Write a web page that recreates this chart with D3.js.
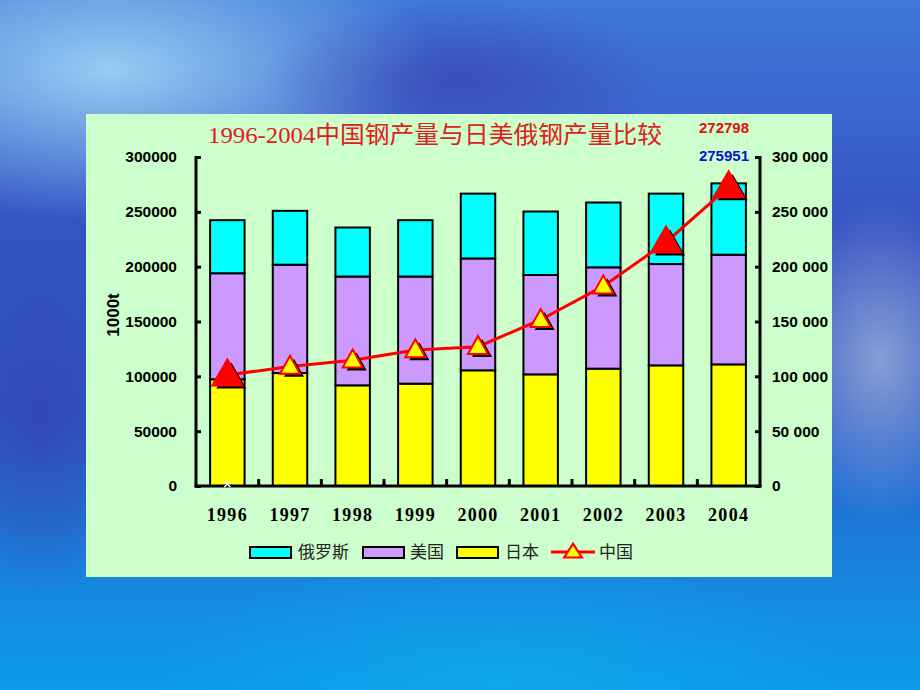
<!DOCTYPE html>
<html><head><meta charset="utf-8">
<script src="https://cdn.jsdelivr.net/npm/d3@7"></script>
<style>body{margin:0;overflow:hidden;background:#2a5fd0}</style></head>
<body><svg id="c" width="920" height="690"></svg>
<script>
// Data (unit: 1000t)
const years  = ["1996","1997","1998","1999","2000","2001","2002","2003","2004"];
const japan  = [97300, 103000, 91800, 93300, 105500, 101800, 107000, 110000, 110900];
const usa    = [96700, 98800, 99200, 97700, 102000, 90600, 92400, 92400, 100000];
const russia = [48400, 49100, 44700, 51400, 59100, 57900, 59100, 64200, 65051];
const china  = [101237, 108900, 114600, 124000, 127000, 151600, 182200, 222300, 272798];
const leftTicks  = [0, 50000, 100000, 150000, 200000, 250000, 300000];
const rightTickLabels = ["0","50 000","100 000","150 000","200 000","250 000","300 000"];
const seriesNames = ["俄罗斯","美国","日本","中国"];
const titleText = "1996-2004中国钢产量与日美俄钢产量比较";
const chinaLast = "272798";
const totalLast = "275951";
const bigMarkers = ["1996","2003","2004"];

const svg = d3.select("#c");
const defs = svg.append("defs");

// background
const lg = defs.append("linearGradient").attr("id","bg").attr("x1",0).attr("y1",0).attr("x2",0).attr("y2",1);
[[0,"#3f78d8"],[0.35,"#3552c2"],[0.6,"#2a5ccc"],[0.85,"#1688de"],[1,"#0c9ae8"]].forEach(s=>lg.append("stop").attr("offset",s[0]).attr("stop-color",s[1]));
function radial(id, color, op){
  const r = defs.append("radialGradient").attr("id",id);
  r.append("stop").attr("offset",0).attr("stop-color",color).attr("stop-opacity",op);
  r.append("stop").attr("offset",1).attr("stop-color",color).attr("stop-opacity",0);
}
radial("g1","#9ad2f4",0.95);
radial("g2","#b0bcd8",0.7);
radial("g3","#3a3aa8",0.6);
radial("g4","#10b0f0",0.6);
svg.append("rect").attr("width",920).attr("height",690).attr("fill","url(#bg)");
svg.append("ellipse").attr("cx",110).attr("cy",70).attr("rx",330).attr("ry",150).attr("fill","url(#g1)");
svg.append("ellipse").attr("cx",460).attr("cy",80).attr("rx",200).attr("ry",80).attr("fill","url(#g3)");
svg.append("ellipse").attr("cx",40).attr("cy",420).attr("rx",120).attr("ry",180).attr("fill","url(#g3)");
svg.append("ellipse").attr("cx",880).attr("cy",360).attr("rx",110).attr("ry",160).attr("fill","url(#g2)");
svg.append("ellipse").attr("cx",500).attr("cy",680).attr("rx",350).attr("ry",120).attr("fill","url(#g4)");

// panel
svg.append("rect").attr("x",86).attr("y",114).attr("width",746).attr("height",463).attr("fill","#CCFFCC");

const x = d3.scaleBand().domain(years).range([196,760]).paddingInner(0.45).paddingOuter(0.225);
const y = d3.scaleLinear().domain([0,300000]).range([486,157]);

// stacked bars
const rows = years.map((yr,i)=>({year:yr, japan:japan[i], usa:usa[i], russia:russia[i]}));
const stack = d3.stack().keys(["japan","usa","russia"])(rows);
const colors = {japan:"#FFFF00", usa:"#CC99FF", russia:"#00FFFF"};
stack.forEach(layer=>{
  svg.append("g").selectAll("rect").data(layer).join("rect")
    .attr("x",d=>x(d.data.year)).attr("width",x.bandwidth())
    .attr("y",d=>y(d[1])).attr("height",d=>y(d[0])-y(d[1]))
    .attr("fill",colors[layer.key]).attr("stroke","#000").attr("stroke-width",2);
});

// axes
const axL = svg.append("g").attr("transform","translate(196,0)")
  .call(d3.axisLeft(y).tickValues(leftTicks).tickFormat(d3.format("d")).tickSize(-5).tickPadding(19));
const axR = svg.append("g").attr("transform","translate(760,0)")
  .call(d3.axisRight(y).tickValues(leftTicks).tickFormat((d,i)=>rightTickLabels[i]).tickSize(-5).tickPadding(12));
[axL,axR].forEach(a=>{
  a.selectAll(".tick line").attr("stroke","#000").attr("stroke-width",3);
  a.selectAll("text").attr("font-family","'Liberation Sans',Arial,sans-serif").attr("font-weight","bold").attr("font-size",15.5).attr("fill","#000");
});
axL.select(".domain").remove(); axR.select(".domain").remove();
svg.append("line").attr("x1",196).attr("x2",196).attr("y1",y(300000)-1).attr("y2",y(0)+1.5).attr("stroke","#000").attr("stroke-width",3);
svg.append("line").attr("x1",760).attr("x2",760).attr("y1",y(300000)-1).attr("y2",y(0)+1.5).attr("stroke","#000").attr("stroke-width",3);

// x axis
const axX = svg.append("g").attr("transform","translate(0,486)")
  .call(d3.axisBottom(x).tickSize(0).tickPadding(22));
axX.select(".domain").remove();
axX.selectAll("text").attr("font-family","'Liberation Serif','Times New Roman',serif").attr("font-weight","bold").attr("font-size",18).attr("letter-spacing",1.3).attr("fill","#000");
svg.append("line").attr("x1",194.5).attr("x2",761.5).attr("y1",486).attr("y2",486).attr("stroke","#000").attr("stroke-width",3);
svg.append("g").selectAll("line").data(years.slice(1)).join("line")
  .attr("x1",d=>x(d)-x.step()*x.paddingInner()/2).attr("x2",d=>x(d)-x.step()*x.paddingInner()/2)
  .attr("y1",486).attr("y2",479).attr("stroke","#000").attr("stroke-width",3);

// white x mark
const cx0 = x(years[0])+x.bandwidth()/2;
svg.append("path").attr("d",`M${cx0-3},${481}L${cx0+3},${487}M${cx0+3},${481}L${cx0-3},${487}`).attr("stroke","#fff").attr("stroke-width",1.5);

// china line
const line = d3.line().x((d,i)=>x(years[i])+x.bandwidth()/2).y(d=>y(d));
svg.append("path").datum(china).attr("d",line).attr("fill","none").attr("stroke","#FF0000").attr("stroke-width",3);
function tri(cx,cy,w,h){return `M${cx},${cy-h*0.6}L${cx+w/2},${cy+h*0.4}L${cx-w/2},${cy+h*0.4}Z`;}
const mk = svg.append("g");
china.forEach((v,i)=>{
  const cx = x(years[i])+x.bandwidth()/2, cy = y(v);
  const big = bigMarkers.includes(years[i]);
  const w = big?30:20, h = big?26:18;
  mk.append("path").attr("d",tri(cx+4,cy+3,w,h)).attr("fill","#000");
  mk.append("path").attr("d",tri(cx,cy,w,h)).attr("fill",big?"#FF0000":"#FFFF00").attr("stroke","#FF0000").attr("stroke-width",2).attr("stroke-linejoin","miter");
});

// title
svg.append("text").attr("x",435).attr("y",143).attr("text-anchor","middle")
  .attr("font-family","'Liberation Serif','Noto Sans CJK SC',serif").attr("font-size",24).attr("fill","#E02020")
  .attr("textLength",454).attr("lengthAdjust","spacingAndGlyphs").text(titleText);
svg.append("text").attr("x",724).attr("y",133).attr("text-anchor","middle")
  .attr("font-family","'Liberation Sans',Arial,sans-serif").attr("font-weight","bold").attr("font-size",15).attr("fill","#E01010").text(chinaLast);
svg.append("text").attr("x",749).attr("y",161).attr("text-anchor","end")
  .attr("font-family","'Liberation Sans',Arial,sans-serif").attr("font-weight","bold").attr("font-size",15).attr("fill","#1010D0").text(totalLast);

// y label
svg.append("text").attr("transform","translate(119,315) rotate(-90)").attr("text-anchor","middle")
  .attr("font-family","'Liberation Sans',Arial,sans-serif").attr("font-weight","bold").attr("font-size",17).attr("fill","#000").text("1000t");

// legend
const lgY = 552;
const legendItems = [
  {name:seriesNames[0], color:colors.russia, x:250, tx:298},
  {name:seriesNames[1], color:colors.usa, x:363, tx:410},
  {name:seriesNames[2], color:colors.japan, x:457, tx:505}
];
legendItems.forEach(it=>{
  svg.append("rect").attr("x",it.x).attr("y",lgY-5).attr("width",41).attr("height",11).attr("fill",it.color).attr("stroke","#000").attr("stroke-width",2);
  svg.append("text").attr("x",it.tx).attr("y",lgY+6).attr("font-family","'Noto Sans CJK SC',sans-serif").attr("font-size",17).attr("fill","#222").text(it.name);
});
svg.append("line").attr("x1",551).attr("x2",595).attr("y1",lgY).attr("y2",lgY).attr("stroke","#FF0000").attr("stroke-width",3);
svg.append("path").attr("d",tri(573,lgY,18,14)).attr("fill","#FFFF00").attr("stroke","#FF0000").attr("stroke-width",2);
svg.append("text").attr("x",599).attr("y",lgY+6).attr("font-family","'Noto Sans CJK SC',sans-serif").attr("font-size",17).attr("fill","#222").text(seriesNames[3]);
</script></body></html>
